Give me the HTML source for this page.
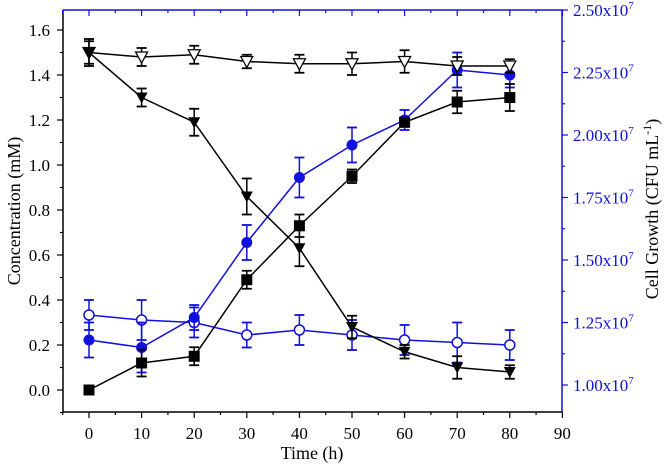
<!DOCTYPE html>
<html><head><meta charset="utf-8"><style>
html,body{margin:0;padding:0;background:#fff;}
svg{display:block;font-family:"Liberation Serif",serif;}
</style></head><body>
<svg id="chart" width="666" height="468" viewBox="0 0 666 468"></svg>
<script>
const times = [0,10,20,30,40,50,60,70,80];
const openTri = [1.50,1.48,1.49,1.46,1.45,1.45,1.46,1.44,1.44];
const openTriErr = [0.06,0.04,0.04,0.03,0.04,0.05,0.05,0.04,0.03];
const filledTri = [1.50,1.30,1.19,0.86,0.63,0.28,0.17,0.10,0.08];
const filledTriErr = [0.05,0.04,0.06,0.08,0.08,0.05,0.03,0.05,0.03];
const squares = [0.0,0.12,0.15,0.49,0.73,0.95,1.19,1.28,1.30];
const squaresErr = [0.0,0.06,0.04,0.04,0.05,0.03,0.02,0.05,0.06];
const blueFilled = [1.18,1.15,1.27,1.57,1.83,1.96,2.06,2.26,2.24];
const blueFilledErr = [0.07,0.10,0.05,0.07,0.08,0.07,0.04,0.07,0.05];
const blueOpen = [1.28,1.26,1.25,1.20,1.22,1.20,1.18,1.17,1.16];
const blueOpenErr = [0.06,0.08,0.06,0.05,0.06,0.06,0.06,0.08,0.06];
const xTicks = [0,10,20,30,40,50,60,70,80,90];
const yLeftTicks = [0.0,0.2,0.4,0.6,0.8,1.0,1.2,1.4,1.6];
const yRightTicks = [1.00,1.25,1.50,1.75,2.00,2.25,2.50];

const L=63,R=562,T=10,B=412;
const BLUE='#1010e0';
const xs=t=>89+t*5.26;
const yl=v=>390-v*225;
const yr=v=>385-(v-1)*250;
const svg=document.getElementById('chart');
const NS='http://www.w3.org/2000/svg';
function mk(tag,attrs,parent){const e=document.createElementNS(NS,tag);for(const k in attrs)e.setAttribute(k,attrs[k]);(parent||svg).appendChild(e);return e;}

let a;
a=mk('line',{x1:L,y1:B,x2:R,y2:B,stroke:'#000','stroke-width':1.5});


a=mk('line',{x1:L,y1:T,x2:L,y2:B,stroke:'#000','stroke-width':1.5});


a=mk('line',{x1:L,y1:T,x2:R,y2:T,stroke:BLUE,'stroke-width':1.5});


a=mk('line',{x1:R,y1:T,x2:R,y2:B,stroke:BLUE,'stroke-width':1.5});



for(let t=-5;t<=90;t+=5){
  const major=t%10===0;
  const x=xs(t);
  mk('line',{x1:x,y1:B,x2:x,y2:B+(major?6:3),stroke:'#000','stroke-width':1.2});
  mk('line',{x1:x,y1:T,x2:x,y2:T+(major?6:3),stroke:BLUE,'stroke-width':1.2});
}
xTicks.forEach(t=>{const e=mk('text',{x:xs(t),y:439,'text-anchor':'middle','font-size':17,fill:'#000'});e.textContent=t;

});
for(let i=0;i<=17;i++){const v=-0.1+i*0.1;const y=yl(v);const major=Math.abs(Math.round(v*10)%2)===0;
  mk('line',{x1:L,y1:y,x2:L-(major?6:3),y2:y,stroke:'#000','stroke-width':1.2});}
yLeftTicks.forEach(v=>{const e=mk('text',{x:50,y:yl(v)+6,'text-anchor':'end','font-size':17,fill:'#000'});e.textContent=v.toFixed(1);

});
for(let i=0;i<=12;i++){const v=1+i*0.125;const y=yr(v);const major=i%2===0;
  mk('line',{x1:R,y1:y,x2:R+(major?6:3),y2:y,stroke:BLUE,'stroke-width':1.2});}
yRightTicks.forEach(v=>{const e=mk('text',{x:573,y:yr(v)+6,'font-size':17,fill:BLUE});e.innerHTML=v.toFixed(2)+'x10<tspan dy="-7" font-size="11">7</tspan>';

});

let tt=mk('text',{x:312,y:459,'text-anchor':'middle','font-size':18});tt.textContent='Time (h)';


tt=mk('text',{x:0,y:0,'text-anchor':'middle','font-size':18,transform:'translate(20,211) rotate(-90)'});tt.textContent='Concentration (mM)';


tt=mk('text',{x:0,y:0,'text-anchor':'middle','font-size':18,transform:'translate(658,209) rotate(-90)'});tt.innerHTML='Cell Growth (CFU mL<tspan dy="-7" font-size="12">-1</tspan><tspan dy="7">)</tspan>';



function series(vals,errs,ymap,color,marker,name){
  const g=mk('g',{});
  
  
  mk('polyline',{points:times.map((t,i)=>xs(t)+','+ymap(vals[i])).join(' '),fill:'none',stroke:color,'stroke-width':1.5},g);
  times.forEach((t,i)=>{
    const x=xs(t),y1=ymap(vals[i]-errs[i]),y2=ymap(vals[i]+errs[i]);
    if(errs[i]>0){
      mk('line',{x1:x,y1:y1,x2:x,y2:y2,stroke:color,'stroke-width':1.5},g);
      mk('line',{x1:x-5,y1:y1,x2:x+5,y2:y1,stroke:color,'stroke-width':1.8},g);
      mk('line',{x1:x-5,y1:y2,x2:x+5,y2:y2,stroke:color,'stroke-width':1.8},g);
    }
    const y=ymap(vals[i]);let m;
    if(marker==='square')m=mk('rect',{x:x-5.5,y:y-5.5,width:11,height:11,fill:color},g);
    else if(marker==='tri')m=mk('polygon',{points:`${x-6},${y-5} ${x+6},${y-5} ${x},${y+6}`,fill:color},g);
    else if(marker==='otri')m=mk('polygon',{points:`${x-6},${y-5} ${x+6},${y-5} ${x},${y+6}`,fill:'#fff',stroke:color,'stroke-width':1.3},g);
    else if(marker==='circ')m=mk('circle',{cx:x,cy:y,r:5.5,fill:color},g);
    else m=mk('circle',{cx:x,cy:y,r:5,fill:'#fff',stroke:color,'stroke-width':1.5},g);
    
    
  });
}
series(blueOpen,blueOpenErr,yr,BLUE,'ocirc','blue-open-circle-series');
series(blueFilled,blueFilledErr,yr,BLUE,'circ','blue-filled-circle-series');
series(openTri,openTriErr,yl,'#000','otri','open-triangle-series');
series(filledTri,filledTriErr,yl,'#000','tri','filled-triangle-series');
series(squares,squaresErr,yl,'#000','square','square-series');
</script>
</body></html>
